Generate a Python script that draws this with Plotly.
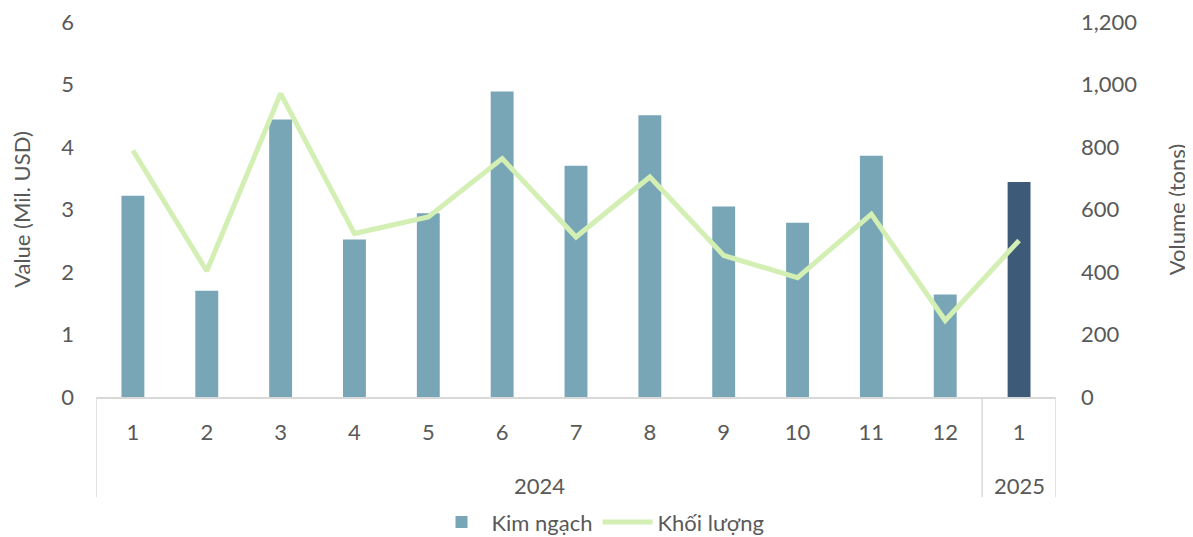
import plotly.graph_objects as go

years = ["2024"] * 12 + ["2025"]
months = ["1", "2", "3", "4", "5", "6", "7", "8", "9", "10", "11", "12", "1"]
value_musd = [3.22, 1.70, 4.44, 2.52, 2.94, 4.89, 3.70, 4.51, 3.05, 2.79, 3.86, 1.64, 3.44]
volume_tons = [789, 403, 971, 523, 576, 763, 512, 704, 453, 382, 585, 245, 501]
year_groups = ["2024", "2025"]

cats = [f"{y}-{m}" for y, m in zip(years, months)]
bar_colors = ["#78A6B6"] * 12 + ["#3D5A78"]
FONT = "Lato, Open Sans, sans-serif"
GREY = "#595959"
LINEC = "#D9D9D9"
FS = 22

fig = go.Figure()
fig.add_trace(go.Bar(
    x=cats, y=value_musd, name="Kim ngạch",
    marker=dict(color=bar_colors, line=dict(width=0)),
))
fig.add_trace(go.Scatter(
    x=cats, y=volume_tons, name="Khối lượng", yaxis="y2",
    mode="lines", line=dict(color="#D3EFB4", width=5),
))

# year group labels and dividers
group_idx = {g: [i for i, y in enumerate(years) if y == g] for g in year_groups}
bounds = [-0.5]
for g in year_groups:
    idx = group_idx[g]
    fig.add_annotation(x=(idx[0] + idx[-1]) / 2, xref="x", y=-0.235, yref="paper",
                       text=g, showarrow=False, yanchor="middle",
                       font=dict(size=FS, color=GREY, family=FONT))
    bounds.append(idx[-1] + 0.5)
for b in bounds:
    fig.add_shape(type="line", xref="x", yref="paper", x0=b, x1=b, y0=0, y1=-0.267,
                  line=dict(color=LINEC, width=1.5))

fig.update_layout(
    width=1185, height=529,
    margin=dict(l=88, r=137, t=14, b=140, autoexpand=False),
    paper_bgcolor="white", plot_bgcolor="white",
    font=dict(family=FONT, size=FS, color=GREY),
    bargap=0.69,
    showlegend=True,
    legend=dict(orientation="h", x=0.5, xanchor="center", xref="container",
                y=0.028, yanchor="middle", yref="container",
                font=dict(size=FS, color=GREY), itemwidth=50),
    xaxis=dict(
        type="category", showline=True, linecolor=LINEC, linewidth=1.5,
        showgrid=False, ticks="", tickvals=cats, ticktext=months,
        ticklabelstandoff=15, tickfont=dict(size=FS, color=GREY), automargin=False,
        range=[-0.5, len(cats) - 0.5],
    ),
    yaxis=dict(
        range=[0, 6], dtick=1, showgrid=False, zeroline=False, showline=False,
        title=dict(text="Value (Mil. USD)", font=dict(size=FS, color=GREY), standoff=32),
        tickfont=dict(size=FS, color=GREY), ticklabelstandoff=21, automargin=False,
        ticklabeloverflow="allow",
    ),
    yaxis2=dict(
        range=[0, 1200], dtick=200, overlaying="y", side="right", showgrid=False,
        zeroline=False, showline=False, tickformat=",",
        title=dict(text="Volume (tons)", font=dict(size=FS, color=GREY), standoff=33),
        tickfont=dict(size=FS, color=GREY), ticklabelstandoff=24, automargin=False,
        ticklabeloverflow="allow",
    ),
)

fig.write_html("out.html")
